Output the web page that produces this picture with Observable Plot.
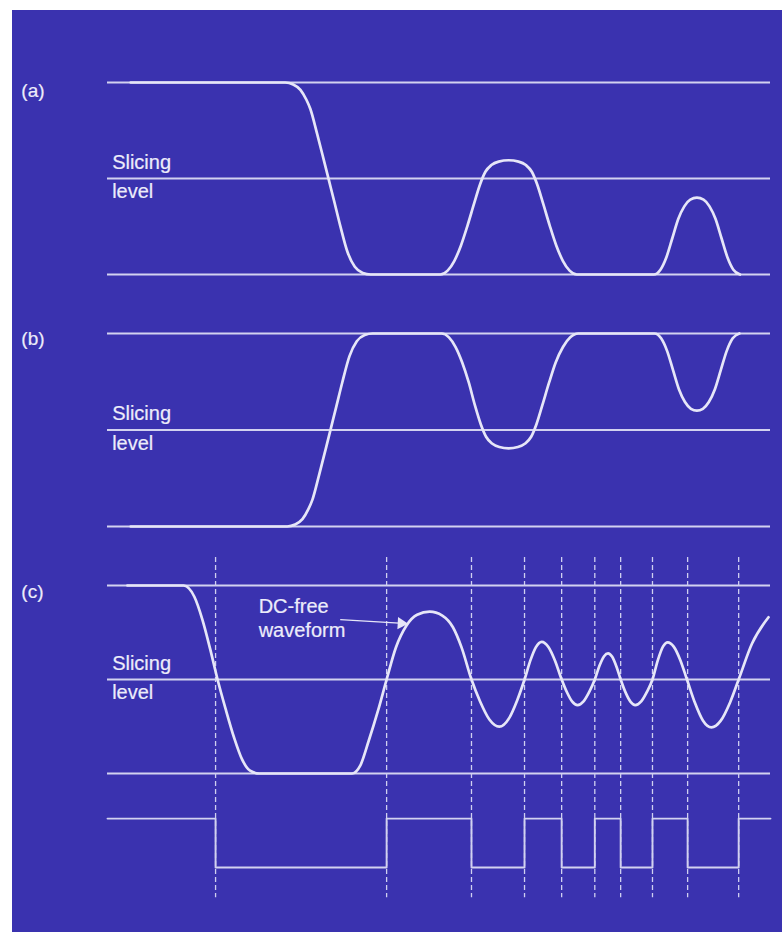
<!DOCTYPE html>
<html>
<head>
<meta charset="utf-8">
<script src="https://cdn.jsdelivr.net/npm/d3@7"></script>
<script src="https://cdn.jsdelivr.net/npm/@observablehq/plot@0.6"></script>
<style>
  html, body { margin: 0; padding: 0; background: #ffffff; }
  #wrap { position: relative; width: 782px; height: 932px; overflow: hidden; background: #ffffff; }
  #blue { position: absolute; left: 12px; top: 10px; right: 0; bottom: 0; background: #3a32af; }
  #wrap svg { position: absolute; left: 0; }
</style>
</head>
<body>
<div id="wrap"><div id="blue"></div></div>
<script>
// ---- Data (time in arbitrary units 0..100, levels: 0 = low rail, 0.5 = slicing level, 1 = high rail)
const railLevels = [0, 0.5, 1];

// (a) waveform
const tA =   [3.5, 26.8, 28.0, 29.1, 30.0, 30.6, 31.6, 32.6, 33.4, 34.2, 35.1, 36.2, 37.3, 38.5, 39.7, 50.2, 51.3, 52.3, 53.3, 54.3, 55.3, 56.2, 57.0, 57.9, 59.0, 60.5, 62.0, 63.1, 64.0, 64.8, 65.7, 66.7, 67.7, 68.7, 69.7, 70.8, 82.4, 83.4, 84.3, 85.2, 86.1, 87.0, 87.9, 88.9, 89.9, 90.8, 91.7, 92.6, 93.5, 94.4, 95.4];
const levA = [1,   1,    0.99, 0.962,0.91, 0.862,0.735,0.60, 0.49, 0.38, 0.255,0.117,0.04, 0.008,0,    0,    0.02, 0.07, 0.15, 0.255,0.37, 0.47, 0.535,0.57, 0.588,0.595,0.588,0.57, 0.535,0.47, 0.37, 0.255,0.15, 0.07, 0.02, 0,    0,    0.025,0.09, 0.19, 0.29, 0.355,0.39, 0.40, 0.39, 0.355,0.29, 0.19, 0.09, 0.025,0];

// (b) waveform
const tB =   [3.5, 27.1, 28.3, 29.4, 30.3, 30.9, 31.9, 32.9, 33.7, 34.5, 35.4, 36.5, 37.6, 38.8, 40.0, 50.4, 51.5, 52.5, 53.5, 54.5, 55.4, 56.3, 57.1, 58.0, 59.1, 60.5, 61.9, 63.0, 63.9, 64.7, 65.6, 66.6, 67.6, 68.7, 69.8, 71.0, 82.5, 83.5, 84.4, 85.3, 86.2, 87.1, 88.0, 88.9, 89.8, 90.7, 91.6, 92.5, 93.4, 94.3, 95.3];
const levB = [0,   0,    0.01, 0.038,0.09, 0.138,0.265,0.40, 0.51, 0.62, 0.745,0.883,0.96, 0.992,1,    1,    0.98, 0.93, 0.85, 0.745,0.63, 0.53, 0.465,0.43, 0.412,0.405,0.412,0.43, 0.465,0.53, 0.63, 0.745,0.85, 0.93, 0.98, 1,    1,    0.975,0.91, 0.81, 0.71, 0.645,0.61, 0.60, 0.61, 0.645,0.71, 0.81, 0.91, 0.975,1];

// (c) DC-free waveform
const tC =   [3.0, 11.5, 13.1, 14.3, 15.5, 16.6, 17.8, 19.1, 20.3, 21.5, 22.9, 36.9, 38.1, 39.4, 40.8, 42.1, 43.5, 45.1, 46.7, 48.6, 50.5, 52.1, 53.4, 54.9, 56.2, 57.6, 59.1, 60.6, 61.8, 62.9, 63.8, 64.6, 65.5, 66.5, 67.5, 68.5, 69.3, 70.1, 70.9, 71.8, 72.7, 73.5, 74.2, 74.9, 75.5, 76.1, 76.8, 77.4, 78.2, 78.9, 79.6, 80.5, 81.4, 82.2, 83.0, 83.8, 84.5, 85.4, 86.4, 87.4, 88.6, 89.8, 91.1, 92.5, 93.9, 95.2, 97.2, 99.7];
const levC = [1,   1,    0.94, 0.82, 0.66, 0.5,  0.345,0.19, 0.075,0.015,0,    0,    0.04, 0.174,0.334,0.5,  0.67, 0.787,0.844,0.861,0.84, 0.778,0.671,0.5,  0.383,0.287,0.249,0.296,0.39, 0.5,  0.603,0.671,0.70, 0.673,0.6,  0.5,  0.432,0.382,0.364,0.384,0.437,0.5,  0.573,0.624,0.639,0.622,0.565,0.5,  0.426,0.381,0.364,0.384,0.437,0.5,  0.602,0.676,0.698,0.675,0.603,0.5,  0.376,0.282,0.245,0.281,0.378,0.5,  0.69, 0.831];

// (c) sliced data: bit boundaries and the resulting square wave
const bitEdges = [16.3, 42.1, 54.9, 62.9, 68.5, 73.5, 77.4, 82.2, 87.5, 95.2];
const sqT =   [0,     16.3, 42.1,  54.9, 62.9,  68.5, 73.5,  77.4, 82.2,  87.5, 95.2,  100];
const sqLev = [-0.24, -0.5, -0.24, -0.5, -0.24, -0.5, -0.24, -0.5, -0.24, -0.5, -0.24, -0.24];

// labels
const panelLabels = ["(a)", "(b)", "(c)"];
const sliceText = ["Slicing", "level"];
const annText = ["DC-free", "waveform"];

// ---- Styling
const FONT = "'Liberation Sans', Arial, Helvetica, sans-serif";
const RAIL = "#d2d2f0";
const WAVE = "#e6e6f8";
const TEXT = "#ececfa";

const pts = (ts, vs) => ts.map((t, i) => ({t, v: vs[i]}));
const wrap = document.getElementById("wrap");

function panel({top, height, marginTop, marginBottom, yDomain, marks}) {
  const svg = Plot.plot({
    width: 782, height,
    marginLeft: 107, marginRight: 12, marginTop, marginBottom,
    x: {domain: [0, 100], axis: null},
    y: {domain: yDomain, axis: null},
    style: {background: "transparent", overflow: "visible", fontFamily: FONT},
    marks
  });
  svg.style.top = top + "px";
  svg.style.overflow = "visible";
  wrap.append(svg);
}

const txt = (s, x, y, size = 20) =>
  Plot.text([s], {x: () => x, y: () => y, text: d => d, textAnchor: "start", fontSize: size, fill: TEXT, fontFamily: FONT, stroke: TEXT, strokeWidth: 0.2});

function sliceLabels() {
  return [txt(sliceText[0], 0.7, 0.585), txt(sliceText[1], 0.7, 0.43)];
}

const CURVE = "monotone-x";

// (a)
panel({
  top: 0, height: 300, marginTop: 82, marginBottom: 26, yDomain: [0, 1],
  marks: [
    Plot.ruleY(railLevels, {stroke: RAIL, strokeWidth: 1.8}),
    Plot.line(pts(tA, levA), {x: "t", y: "v", curve: CURVE, stroke: WAVE, strokeWidth: 2.7}),
    txt(panelLabels[0], -13, 0.955, 19),
    ...sliceLabels()
  ]
});

// (b)
panel({
  top: 300, height: 250, marginTop: 33, marginBottom: 24, yDomain: [0, 1],
  marks: [
    Plot.ruleY(railLevels, {stroke: RAIL, strokeWidth: 1.8}),
    Plot.line(pts(tB, levB), {x: "t", y: "v", curve: CURVE, stroke: WAVE, strokeWidth: 2.7}),
    txt(panelLabels[1], -13, 0.97, 19),
    ...sliceLabels()
  ]
});

// (c)
panel({
  top: 550, height: 382, marginTop: 35, marginBottom: 65, yDomain: [-0.5, 1],
  marks: [
    Plot.ruleY(railLevels, {stroke: RAIL, strokeWidth: 1.8}),
    Plot.ruleX(bitEdges, {y1: () => 1.149, y2: () => -0.661, stroke: "#cfcff0", strokeWidth: 1.3, strokeDasharray: "5,3"}),
    Plot.line(pts(sqT, sqLev), {x: "t", y: "v", curve: "step-after", stroke: RAIL, strokeWidth: 1.9}),
    Plot.line(pts(tC, levC), {x: "t", y: "v", curve: CURVE, stroke: WAVE, strokeWidth: 2.7}),
    Plot.link([0], {x1: () => 35.1, y1: () => 0.818, x2: () => 44.0, y2: () => 0.800, stroke: WAVE, strokeWidth: 1.3}),
    Plot.dot([0], {x: () => 44.3, y: () => 0.799, symbol: "triangle", r: 4.5, fill: WAVE, stroke: "none", rotate: 93}),
    txt(panelLabels[2], -13, 0.965, 19),
    txt(annText[0], 22.8, 0.888),
    txt(annText[1], 22.8, 0.76),
    ...sliceLabels()
  ]
});
</script>
</body>
</html>
